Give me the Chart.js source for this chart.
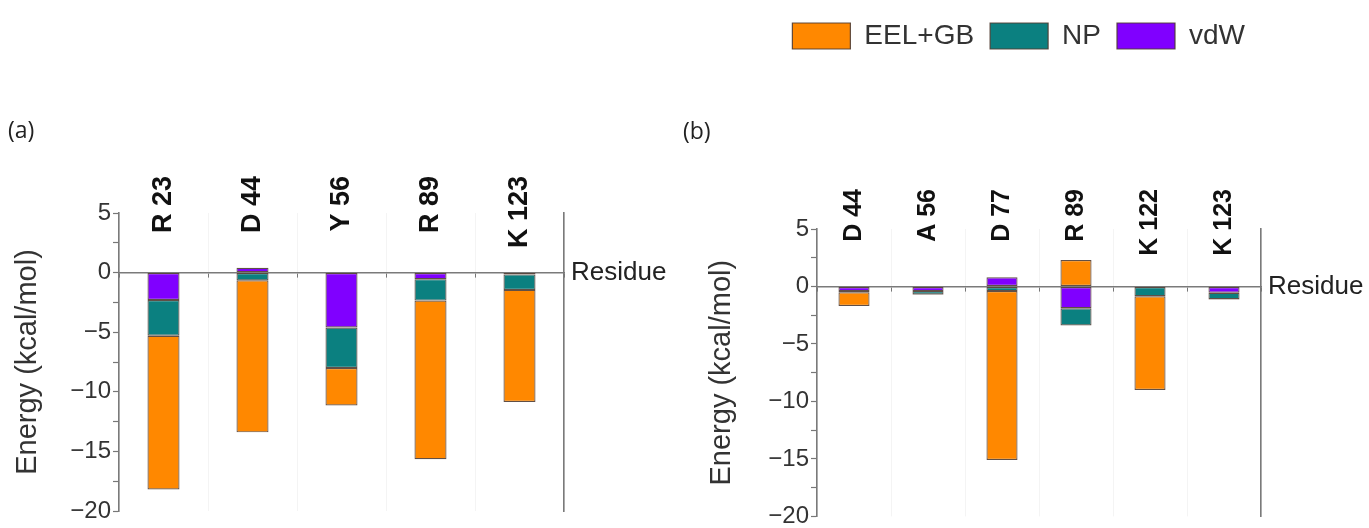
<!DOCTYPE html>
<html><head><meta charset="utf-8">
<script src="https://cdn.jsdelivr.net/npm/chart.js"></script>
<style>
html,body{margin:0;padding:0;background:#fff;}
#wrap{position:relative;width:1369px;height:528px;overflow:hidden;background:#fff;}
canvas{position:absolute;top:0;}
#ca{left:0;} #cb{left:680px;}
</style></head><body>
<div id="wrap"><canvas id="ca" width="680" height="528"></canvas><canvas id="cb" width="689" height="528"></canvas></div>
<script>
// ---- data ----
const seriesNames = ['vdW', 'NP', 'EEL+GB'];
const residuesA = ['R 23', 'D 44', 'Y 56', 'R 89', 'K 123'];
const vdwA = [-2.3, 0.4, -4.6, -0.55, -0.15];
const npA  = [-3.0, -0.65, -3.4, -1.8, -1.3];
const eelA = [-12.9, -12.75, -3.15, -13.3, -9.4];
const residuesB = ['D 44', 'A 56', 'D 77', 'R 89', 'K 122', 'K 123'];
const vdwB = [-0.4, -0.4, 0.8, -1.9, -0.05, -0.55];
const npB  = [-0.1, -0.3, -0.4, -1.5, -0.8, -0.55];
const eelB = [-1.2, -0.05, -14.7, 2.3, -8.15, -0.05];
const yTickValues = [-20, -15, -10, -5, 0, 5];

const seriesColors = ['#8000FF', '#0B8080', '#FF8800'];
const FONT = '"Liberation Sans", Arial, sans-serif';

const residuePlugin = {
  id: 'residue',
  afterDraw(chart) {
    const {ctx, chartArea} = chart;
    const y = chart.scales.y.getPixelForValue(0);
    ctx.save();
    ctx.font = '26px ' + FONT;
    ctx.fillStyle = '#222';
    ctx.textBaseline = 'middle';
    ctx.textAlign = 'left';
    ctx.fillText('Residue', chartArea.right + 7, y);
    ctx.restore();
  }
};

function fmt(v) {
  if (v % 5 !== 0) return '';
  return v < 0 ? '\u2212' + Math.abs(v) : String(v);
}

function makeChart(canvas, labels, series, cfg) {
  const datasets = series.map((vals, i) => ({
    label: seriesNames[i],
    data: vals,
    backgroundColor: seriesColors[i],
    borderColor: 'rgba(80,60,50,0.9)',
    borderWidth: 1.2,
    borderSkipped: false,
    barPercentage: cfg.barPct,
    categoryPercentage: 1.0,
    xAxisID: 'x',
    yAxisID: 'y'
  }));
  const yMin = Math.min(...yTickValues), yMax = Math.max(...yTickValues);
  return new Chart(canvas, {
    type: 'bar',
    data: {labels, datasets},
    plugins: [residuePlugin],
    options: {
      responsive: false,
      animation: false,
      devicePixelRatio: 1,
      layout: {padding: cfg.padding},
      plugins: {
        tooltip: {enabled: false},
        legend: {
          display: cfg.legend,
          position: 'top',
          align: 'end',
          reverse: true,
          weight: 3000,
          labels: {
            boxWidth: 58, boxHeight: 26, padding: 16,
            color: '#333',
            font: {size: 28, family: FONT}
          }
        },
        title: {
          display: true,
          text: cfg.title,
          align: 'start',
          color: '#222',
          font: {size: 23, family: '"Open Sans", sans-serif', weight: 'normal', lineHeight: 1.0},
          padding: cfg.titlePadding
        }
      },
      scales: {
        x: {
          type: 'category',
          axis: 'x',
          position: {y: yMax},
          stacked: true,
          offset: true,
          border: {display: false},
          grid: {display: true, offset: true, drawOnChartArea: true, drawTicks: false, color: 'rgba(0,0,0,0.045)'},
          ticks: {
            autoSkip: false, minRotation: 90, maxRotation: 90,
            padding: cfg.labelPad,
            color: '#111',
            font: {size: cfg.labelSize, weight: 'bold', family: FONT}
          }
        },
        x2: {
          type: 'category',
          axis: 'x',
          position: {y: 0},
          offset: true,
          border: {display: true, color: '#7a7a7a', width: 1.6},
          grid: {display: true, offset: true, drawOnChartArea: false, drawTicks: true, tickLength: 4, tickColor: '#777', tickWidth: 1},
          ticks: {display: false}
        },
        y: {
          type: 'linear',
          position: 'left',
          stacked: true,
          min: yMin, max: yMax,
          afterFit(scale) { scale.width = cfg.yWidth; },
          border: {display: true, color: '#7a7a7a', width: 1.6},
          grid: {drawOnChartArea: false, drawTicks: true, tickLength: 6, tickColor: '#777', tickWidth: 1.2},
          ticks: {
            stepSize: 2.5, autoSkip: false, padding: 2,
            color: '#333',
            font: {size: 24, family: FONT, lineHeight: 0.8},
            callback: (v) => fmt(v)
          },
          title: {
            display: true, text: 'Energy (kcal/mol)', color: '#333',
            font: {size: 29, family: FONT},
            padding: {top: cfg.yTitlePad, bottom: 0}
          }
        },
        y2: {
          type: 'linear',
          position: 'right',
          min: yMin, max: yMax,
          afterFit(scale) { scale.width = 0; },
          border: {display: true, color: '#7a7a7a', width: 1.6},
          grid: {drawOnChartArea: false, drawTicks: false},
          ticks: {display: false}
        }
      }
    }
  });
}

makeChart(document.getElementById('ca'), residuesA, [vdwA, npA, eelA], {
  padding: {top: 0, left: 8, right: 116, bottom: 17},
  yWidth: 111, yTitlePad: 3,
  legend: false, title: '(a)', titlePadding: {top: 119.5, bottom: 70.5},
  labelPad: -37, labelSize: 27, barPct: 0.36
});
makeChart(document.getElementById('cb'), residuesB, [vdwB, npB, eelB], {
  padding: {top: 6, left: 3, right: 108, bottom: 10},
  yWidth: 134, yTitlePad: 22,
  legend: true, title: '(b)', titlePadding: {top: 60.5, bottom: 85.5},
  labelPad: -40, labelSize: 25, barPct: 0.42
});
</script>
</body></html>
